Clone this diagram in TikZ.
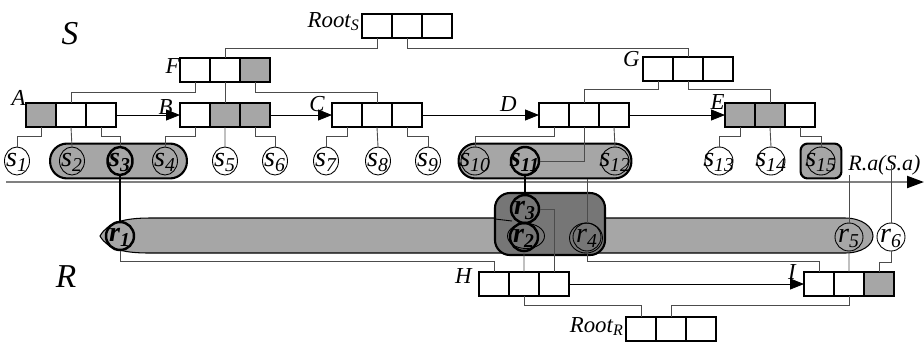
\documentclass[tikz,border=0pt]{standalone}
\usepackage{fontspec}
\setmainfont{Liberation Serif}
\usetikzlibrary{positioning, shapes.geometric, fit, backgrounds, arrows.meta}

\definecolor{shade}{RGB}{166,166,166}
\definecolor{deep}{RGB}{118,118,118}

\tikzstyle{cell} = [rectangle, draw=black, line width=0.6pt, minimum width=0.6cm, minimum height=0.48cm, inner sep=0pt, outer sep=0pt]
\tikzstyle{leaf} = [ellipse, draw=black, line width=0.5pt, minimum width=0.5cm, minimum height=0.56cm, inner sep=0pt, font=\fontsize{16}{17}\selectfont\itshape]
\tikzstyle{wide} = [minimum width=0.56cm]
\tikzstyle{hit} = [line width=1.4pt, font=\fontsize{16}{17}\selectfont\bfseries\itshape]
\tikzstyle{pill} = [draw=black, line width=1.2pt, fill=shade, rounded corners=0.34cm, inner xsep=0.18cm, inner ysep=0.06cm]
\tikzstyle{tag} = [font=\fontsize{13}{14}\selectfont\itshape, inner sep=0pt]
\tikzstyle{big} = [font=\fontsize{19}{20}\selectfont\itshape, inner sep=0pt]
\tikzstyle{link} = [black!70, line width=0.5pt]
\tikzstyle{matchline} = [black, line width=1.3pt]
\tikzstyle{arrow} = [black, line width=0.5pt, -{Triangle[length=0.28cm, width=0.22cm]}]
\tikzstyle{axis} = [black!50, line width=1.2pt, -{Triangle[length=0.34cm, width=0.24cm, color=black, fill=black]}]
\tikzstyle{band} = [draw=black, line width=0.6pt, fill=shade]
\tikzstyle{core} = [draw=black, line width=1.2pt, fill=deep, rounded corners=0.3cm]

% three key cells side by side
\newcommand{\keyrow}[5]{%
  \node[cell, fill=#3, anchor=north west] (#1-1) at #2 {};
  \node[cell, fill=#4, right=0pt of #1-1] (#1-2) {};
  \node[cell, fill=#5, right=0pt of #1-2] (#1-3) {};}
% leaf text that does not grow the ellipse
\newcommand{\lf}[2]{\makebox[0pt]{\raisebox{-0.45ex}[0pt][0pt]{#1\textsubscript{#2}}}}

\begin{document}
\begin{tikzpicture}[x=0.02cm, y=-0.02cm]
\useasboundingbox (0,0) rectangle (924,343);

\node[big] (nameS) at (70,34) {S};
\node[big] (nameR) at (66,277) {R};

% R side regions
\draw[band] (100,236) .. controls (108,222) and (125,218) .. (150,218) -- (845,218) .. controls (862,218) and (873,227) .. (873,236) .. controls (873,245) and (862,253) .. (845,253) -- (150,253) .. controls (125,253) and (108,250) .. (100,236) -- cycle;
\draw[core] (495,193) rectangle (605,255);
\draw[line width=0.5pt] (495,219) -- (512,221);
\draw[line width=0.5pt] (526,236) ellipse [x radius=0.37cm, y radius=0.25cm];
\draw[line width=0.5pt] (586,238) ellipse [x radius=0.33cm, y radius=0.3cm];

% S tree
\keyrow{rootS}{(362,14)}{white}{white}{white}
\node[tag, anchor=base east] (labRootS) at ([xshift=-0.04cm, yshift=-0.02cm]rootS-1.west) {Root\textsubscript{S}};
\keyrow{F}{(180,58)}{white}{white}{shade}
\node[tag, anchor=south east] (labF) at ([yshift=-0.08cm]F-1.west) {F};
\keyrow{G}{(643,57)}{white}{white}{white}
\node[tag, anchor=south east] (labG) at ([xshift=-0.06cm, yshift=-0.2cm]G-1.north west) {G};
\keyrow{A}{(26,103)}{shade}{white}{white}
\node[tag, anchor=south east] (labA) at ([yshift=-0.06cm]A-1.north west) {A};
\keyrow{B}{(180,103)}{white}{shade}{shade}
\node[tag, anchor=south east] (labB) at ([xshift=-0.14cm]B-1.west) {B};
\keyrow{C}{(332,103)}{white}{white}{white}
\node[tag, anchor=south east] (labC) at ([xshift=-0.14cm, yshift=0.06cm]C-1.west) {C};
\keyrow{D}{(539,103)}{white}{white}{white}
\node[tag, anchor=south east] (labD) at ([xshift=-0.44cm, yshift=0.06cm]D-1.west) {D};
\keyrow{E}{(725,103)}{shade}{shade}{white}
\node[tag, anchor=south east] (labE) at ([yshift=0.1cm]E-1.west) {E};

\draw[link] (rootS-1.south) -- ++(0,10) -| (F-2.north);
\draw[link] (rootS-2.south) -- ++(0,10) -| (G-2.north);
\draw[link] (F-1.south) -- ++(0,10) -| (A-2.north);
\draw[link] (F-2.south) -- (B-2.north);
\draw[link] (F-3.south) -- ++(0,10) -| (C-2.north);
\draw[link] (G-1.south) -- ++(0,8) -| (D-2.north);
\draw[link] (G-2.south) -- ++(0,8) -| (E-2.north);

\draw[arrow] (A-3.east) -- (B-1.west);
\draw[arrow] (B-3.east) -- (C-1.west);
\draw[arrow] (C-3.east) -- (D-1.west);
\draw[arrow] (D-3.east) -- (E-1.west);

% S leaves
\node[leaf] (s1) at (17,161) {\lf{s}{1}};
\node[leaf] (s2) at (72,161) {\lf{s}{2}};
\node[leaf, hit] (s3) at (120,161) {\lf{s}{3}};
\node[leaf] (s4) at (165,161) {\lf{s}{4}};
\node[leaf] (s5) at (225,161) {\lf{s}{5}};
\node[leaf] (s6) at (275,161) {\lf{s}{6}};
\node[leaf] (s7) at (326,161) {\lf{s}{7}};
\node[leaf] (s8) at (378,161) {\lf{s}{8}};
\node[leaf] (s9) at (428,161) {\lf{s}{9}};
\node[leaf, wide] (s10) at (475,161) {\lf{s}{10}};
\node[leaf, wide, hit] (s11) at (525,161) {\lf{s}{11}};
\node[leaf, wide] (s12) at (615,161) {\lf{s}{12}};
\node[leaf, wide] (s13) at (719,161) {\lf{s}{13}};
\node[leaf, wide] (s14) at (771,161) {\lf{s}{14}};
\node[leaf, wide] (s15) at (821,161) {\lf{s}{15}};

\begin{scope}[on background layer]
\node[pill, fit=(s2)(s4)] (grpA) {};
\node[pill, inner xsep=0.04cm, fit=(s10)(s12)] (grpD) {};
\node[pill, rounded corners=0.14cm, inner xsep=0.12cm, fit=(s15)] (grpE) {};
\end{scope}

\draw[link] (A-1.south) -- ++(0,9) -| (s1.north);
\draw[link] (A-2.south) -- (s2.north);
\draw[link] (A-3.south) -- ++(0,9) -| (s3.north);
\draw[link] (B-1.south) -- ++(0,9) -| (s4.north);
\draw[link] (B-2.south) -- (s5.north);
\draw[link] (B-3.south) -- ++(0,9) -| (s6.north);
\draw[link] (C-1.south) -- ++(0,9) -| (s7.north);
\draw[link] (C-2.south) -- (s8.north);
\draw[link] (C-3.south) -- ++(0,9) -| (s9.north);
\draw[link] (D-1.south) -- ++(0,9) -| (s10.north);
\draw[link] (D-2.south) |- (s11.east);
\draw[link] (D-3.south) -- (s12.north);
\draw[link] (E-1.south) -- ++(0,9) -| (s13.north);
\draw[link] (E-2.south) -- (s14.north);
\draw[link] (E-3.south) -- ++(0,9) -| (s15.north);

% join attribute axis
\coordinate (axStart) at (6,182);
\coordinate (axEnd) at (924,182);
\draw[axis] (axStart) -- (axEnd);
\node[tag, font=\fontsize{12.5}{14}\selectfont\itshape, anchor=base west] (axlabel) at (848,170) {R.a(S.a)};

% R leaves
\node[leaf, wide, hit] (r1) at (120,236) {\lf{r}{1}};
\node[leaf, wide, hit] (r3) at (525,209) {\lf{r}{3}};
\node[leaf, wide, hit] (r2) at (524,237) {\lf{r}{2}};
\node[leaf, wide] (r4) at (587,237) {\lf{r}{4}};
\node[leaf, wide] (r5) at (849,237) {\lf{r}{5}};
\node[leaf, wide, fill=white] (r6) at (891,237) {\lf{r}{6}};

% R tree
\keyrow{H}{(479,272)}{white}{white}{white}
\node[tag, anchor=south east] (labH) at ([xshift=-0.14cm]H-1.west) {H};
\keyrow{I}{(804,272)}{white}{white}{shade}
\node[tag, anchor=south east] (labI) at ([xshift=-0.16cm, yshift=0.08cm]I-1.west) {I};
\keyrow{rootR}{(626,317)}{white}{white}{white}
\node[tag, anchor=base east] (labRootR) at ([xshift=-0.04cm, yshift=-0.06cm]rootR-1.west) {Root\textsubscript{R}};

\draw[link] (rootR-1.north) -- ++(0,-12) -| (H-2.south);
\draw[link] (rootR-2.north) -- ++(0,-12) -| (I-2.south);
\draw[arrow] (H-3.east) -- (I-1.west);

\draw[link] (H-1.north) -- ++(0,-11) -| (r1.south);
\draw[link] (H-2.north) -- (r2.south);
\draw[link] (H-3.north) |- (r3.east);
\draw[link] (I-1.north) -- ++(0,-11) -| (r4.south);
\draw[link] (I-2.north) -- (r5.south);
\draw[link] (I-3.north) -- ++(0,-10) -| (r6.south);

% matches across the axis
\draw[matchline] (s3.south) -- (r1.north);
\draw[matchline] (s11.south) -- (r3.north);
\draw[link] (r4.north) -- (r4.north |- grpD.south);
\draw[link] (r5.north) -- (r5.north |- axlabel.south);
\draw[link] (r6.north) -- (r6.north |- axlabel.center);

\end{tikzpicture}
\end{document}
